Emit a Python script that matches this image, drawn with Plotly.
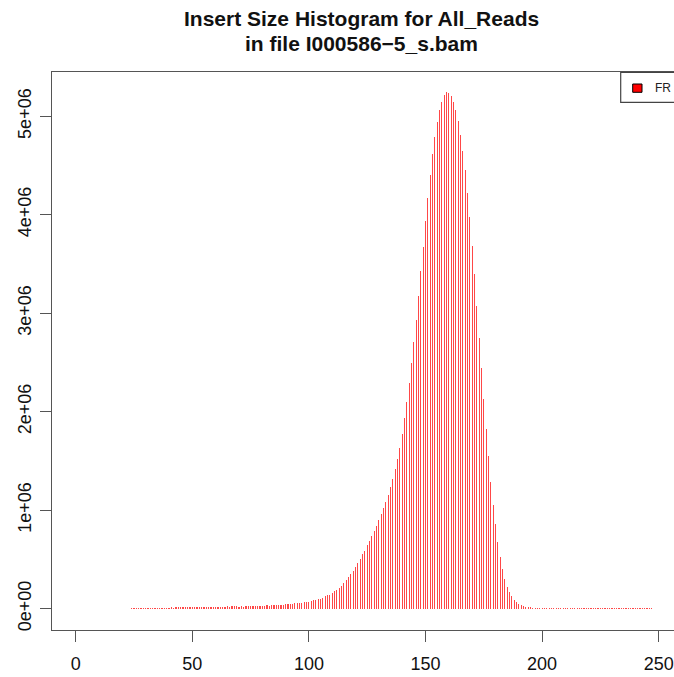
import plotly.graph_objects as go

# ---------------- data ----------------
insert_size = list(range(24, 248))

fr_left_tail = [
    10000, 10000, 9000, 10000, 10000, 10000, 11000, 10000, 11000, 11000,   # 24-33
    11000, 11000, 12000, 11000, 12000, 12000, 12000, 13000, 12000, 13000,  # 34-43
    13000, 13000, 14000, 13000, 14000, 14000, 14000, 15000, 15000, 15000,  # 44-53
    16000, 16000, 16000, 17000, 21000, 21000, 22000, 21000, 22000, 22000,  # 54-63
    22000, 23000, 22000, 23000, 23000, 23000, 22000, 23000, 22000, 23000,  # 64-73
    24000, 23000, 24000, 31000, 31000, 32000, 31000, 32000, 33000, 32000,  # 74-83
    33000, 36000, 38000, 39000, 40000, 41000, 43000, 44000,                # 84-91
]
fr_rise = [
    46000, 48000, 55000, 56000, 57000, 61000, 65000, 68000, 71000, 75000,          # 92-101
    85000, 92000, 95000, 99000, 112000, 129000, 136000, 143000, 159000, 176000,    # 102-111
    193000, 210000, 234000, 261000, 288000, 319000, 349000, 386000, 427000, 461000, # 112-121
    508000, 552000, 589000, 643000, 691000, 742000, 789000, 840000, 901000, 960000, # 122-131
    1018000, 1082000, 1157000, 1232000, 1321000, 1415000, 1518000, 1634000,        # 132-139
    1771000, 1937000, 2101000, 2291000, 2492000, 2707000, 2933000, 3175000,        # 140-147
    3428000, 3677000, 3941000, 4173000, 4409000, 4613000, 4790000, 4946000,        # 148-155
    5064000, 5150000, 5212000, 5243000,                                            # 156-159
]
fr_fall = [
    5237000, 5206000, 5150000, 5064000, 4952000, 4814000, 4648000, 4451000,        # 160-167
    4218000, 3978000, 3684000, 3396000, 3069000, 2752000, 2441000, 2126000,        # 168-175
    1825000, 1551000, 1290000, 1053000, 857000, 677000, 525000, 400000,            # 176-183
    302000, 224000, 166000, 126000, 92000, 68000, 48000, 34000,                    # 184-191
    24000, 21000, 17000, 14000, 12000, 10000, 9000, 8000, 8000,                    # 192-200
]
fr_right_tail = [
    7000, 7000, 7000, 7000, 6000, 7000, 6000, 7000, 6000, 6000,   # 201-210
    7000, 6000, 6000, 7000, 6000, 6000, 6000, 7000, 6000, 6000,   # 211-220
    6000, 7000, 6000, 6000, 6000, 7000, 6000, 6000, 6000, 6000,   # 221-230
    7000, 6000, 6000, 6000, 6000, 7000, 6000, 6000, 6000, 6000,   # 231-240
    6000, 7000, 6000, 6000, 6000, 6000, 6000,                     # 241-247
]
fr_counts = fr_left_tail + fr_rise + fr_fall + fr_right_tail

series_name = "FR"
title_lines = ["Insert Size Histogram for All_Reads", "in file I000586\u22125_s.bam"]
x_tick_values = [0, 50, 100, 150, 200, 250]
x_tick_labels = ["0", "50", "100", "150", "200", "250"]
y_tick_values = [0, 1000000, 2000000, 3000000, 4000000, 5000000]
y_tick_labels = ["0e+00", "1e+06", "2e+06", "3e+06", "4e+06", "5e+06"]

# ---------------- layout constants ----------------
W, H = 674, 677
ML, MT, MB, MR = 52, 72, 47, 0
PW = W - ML - MR
PH = H - MT - MB
AXIS_COL = "#555555"
FONT = "Liberation Sans, Arial, Helvetica, sans-serif"


def px_x(p):
    return (p - ML) / PW


def px_y(p):
    return (H - MB - p) / PH


fig = go.Figure()
fig.add_trace(go.Bar(
    x=insert_size,
    y=fr_counts,
    width=0.5,
    marker=dict(color="rgba(255,0,0,0.72)", line=dict(width=0)),
    name=series_name,
    showlegend=False,
))

# legend box (top-right, partly outside the canvas like the reference)
fig.add_shape(type="rect", xref="paper", yref="paper",
              x0=px_x(620.7), x1=px_x(760), y0=px_y(102.3), y1=px_y(72.3),
              line=dict(color="#444444", width=1.2), fillcolor="white", layer="above")
fig.add_shape(type="rect", xref="paper", yref="paper",
              x0=px_x(632.7), x1=px_x(642), y0=px_y(92.3), y1=px_y(84),
              line=dict(color="#000000", width=1), fillcolor="#ff0000", layer="above")
fig.add_annotation(xref="paper", yref="paper", x=px_x(652.5), y=px_y(88.2),
                   xanchor="left", yanchor="middle", showarrow=False,
                   text=series_name, font=dict(family=FONT, size=12, color="#222222"))

# two-line bold title
for line_text, y_center in zip(title_lines, [19, 44]):
    fig.add_annotation(xref="paper", yref="paper", x=px_x(361), y=px_y(y_center),
                       xanchor="center", yanchor="middle", showarrow=False,
                       text=line_text,
                       font=dict(family=FONT, size=21, color="#111111", weight="bold"))

fig.update_layout(
    width=W, height=H,
    margin=dict(l=ML, r=MR, t=MT, b=MB, pad=0),
    paper_bgcolor="white", plot_bgcolor="white",
    bargap=0,
    font=dict(family=FONT, size=18, color="#111111"),
)

fig.update_xaxes(
    range=[(ML - 75.7) / 2.332, (W - 75.7) / 2.332],
    tickmode="array", tickvals=x_tick_values, ticktext=x_tick_labels,
    ticks="outside", ticklen=11, tickwidth=1.2, tickcolor=AXIS_COL,
    showline=True, linecolor=AXIS_COL, linewidth=1.2, mirror=True,
    showgrid=False, zeroline=False, automargin=False,
    tickfont=dict(family=FONT, size=18, color="#111111"),
    ticklabelstandoff=6,
)
fig.update_yaxes(
    range=[-216300, 5450000],
    tickmode="array", tickvals=y_tick_values, ticktext=y_tick_labels,
    tickangle=-90,
    ticks="outside", ticklen=11, tickwidth=1.2, tickcolor=AXIS_COL,
    showline=True, linecolor=AXIS_COL, linewidth=1.2, mirror=False,
    showgrid=False, zeroline=False, automargin=False,
    tickfont=dict(family=FONT, size=18, color="#111111"),
    ticklabelstandoff=2,
)

fig.write_html("out.html", config={"displayModeBar": False},
               post_script="document.body.style.margin='0';")
